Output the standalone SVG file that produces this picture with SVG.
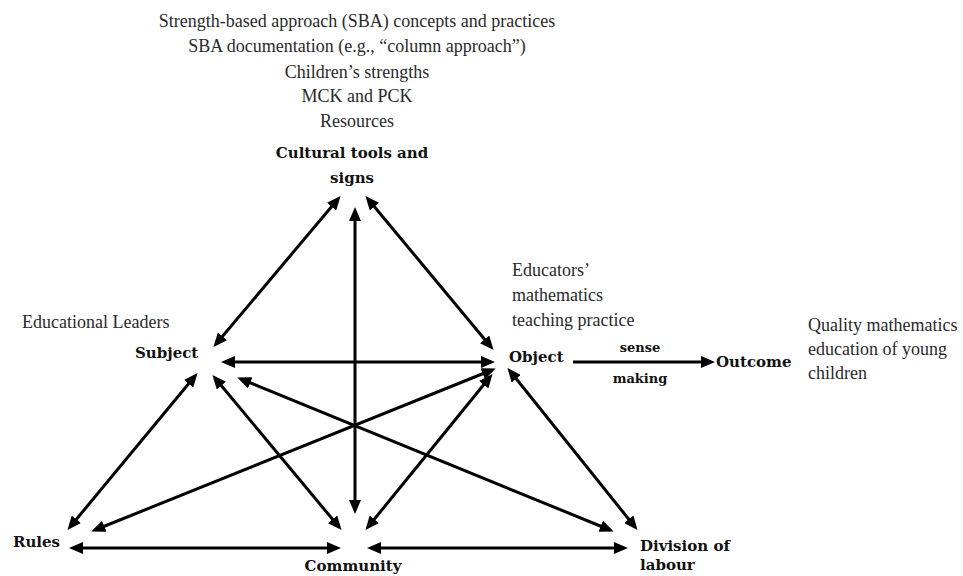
<svg xmlns="http://www.w3.org/2000/svg" width="963" height="576" viewBox="0 0 963 576">
<style>
.t{font-family:"Liberation Serif","Times New Roman",serif;font-size:18px;fill:#2a2a2a}
.b{font-family:"DejaVu Serif","Liberation Serif",serif;font-weight:bold;font-size:15px;fill:#111}
.s{font-family:"DejaVu Serif","Liberation Serif",serif;font-weight:bold;font-size:13px;fill:#111}
.c line{stroke:#000;stroke-width:3;marker-end:url(#ah)}
.c .d{marker-start:url(#ah)}
</style>
<defs>
<marker id="ah" markerUnits="userSpaceOnUse" markerWidth="14" markerHeight="12" viewBox="0 0 14 12" refX="10" refY="6" orient="auto-start-reverse">
<path d="M0,0 L14,6 L0,12 z" fill="#000"/>
</marker>
</defs>
<rect width="963" height="576" fill="#fff"/>
<g id="tools-notes" text-anchor="middle">
<text class="t" x="357" y="27">Strength-based approach (SBA) concepts and practices</text>
<text class="t" x="357" y="52">SBA documentation (e.g., “column approach”)</text>
<text class="t" x="357" y="78">Children’s strengths</text>
<text class="t" x="357" y="102">MCK and PCK</text>
<text class="t" x="357" y="127">Resources</text>
</g>
<g id="cultural-tools" text-anchor="middle">
<text class="b" x="352" y="158">Cultural tools and</text>
<text class="b" x="352" y="183">signs</text>
</g>
<g id="subject">
<text class="t" x="22" y="328">Educational Leaders</text>
<text class="b" x="135" y="358">Subject</text>
</g>
<g id="object">
<text class="t" x="512" y="276">Educators’</text>
<text class="t" x="512" y="301">mathematics</text>
<text class="t" x="512" y="326">teaching practice</text>
<text class="b" x="509" y="362">Object</text>
</g>
<g id="outcome">
<text class="b" x="716" y="367">Outcome</text>
<text class="t" x="808" y="331">Quality mathematics</text>
<text class="t" x="808" y="355">education of young</text>
<text class="t" x="808" y="379">children</text>
</g>
<g id="rules"><text class="b" x="13" y="547">Rules</text></g>
<g id="community"><text class="b" x="353" y="571" text-anchor="middle">Community</text></g>
<g id="division">
<text class="b" x="640" y="551">Division of</text>
<text class="b" x="640" y="570">labour</text>
</g>
<g id="connectors" class="c">
<line class="d" x1="338" y1="199" x2="216" y2="344"/>
<line class="d" x1="368" y1="199" x2="491" y2="347"/>
<line class="d" x1="355" y1="211" x2="355" y2="510"/>
<line class="d" x1="225" y1="362" x2="491" y2="362"/>
<line class="d" x1="195" y1="376" x2="70" y2="527"/>
<line class="d" x1="215" y1="378" x2="339" y2="527"/>
<line class="d" x1="241" y1="379" x2="610" y2="530"/>
<line class="d" x1="95" y1="530" x2="492" y2="370"/>
<line class="d" x1="368" y1="527" x2="490" y2="377"/>
<line class="d" x1="510" y1="371" x2="635" y2="527"/>
<line class="d" x1="73" y1="548" x2="337" y2="548"/>
<line class="d" x1="371" y1="548" x2="624" y2="548"/>
<line x1="573" y1="362" x2="711" y2="362"/>
<text class="s" x="640" y="352" text-anchor="middle">sense</text>
<text class="s" x="640" y="383" text-anchor="middle">making</text>
</g>
</svg>
